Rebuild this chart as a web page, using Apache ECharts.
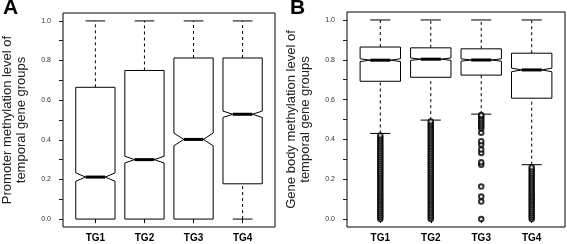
<!DOCTYPE html>
<html>
<head>
<meta charset="utf-8">
<script src="https://cdn.jsdelivr.net/npm/echarts@6/dist/echarts.min.js"></script>
<style>
html,body{margin:0;padding:0;background:#fff;}
#c{width:567px;height:244px;}
</style>
</head>
<body>
<div id="c"></div>
<script>
// ---- data ----
const categories = ['TG1', 'TG2', 'TG3', 'TG4'];
const yTickLabels = [0.0, 0.2, 0.4, 0.6, 0.8, 1.0];
const yMinorTicks = [0.0, 0.1, 0.2, 0.3, 0.4, 0.5, 0.6, 0.7, 0.8, 0.9, 1.0];

// Panel A: promoter methylation
const promoterLow    = [0.0, 0.0, 0.0, 0.0];
const promoterQ1     = [0.0, 0.0, 0.0, 0.178];
const promoterMedian = [0.212, 0.300, 0.402, 0.529];
const promoterNotch  = [0.021, 0.017, 0.032, 0.016];
const promoterQ3     = [0.665, 0.750, 0.813, 0.813];
const promoterHigh   = [1.0, 1.0, 1.0, 1.0];

// Panel B: gene body methylation
const bodyLow    = [0.430, 0.497, 0.527, 0.273];
const bodyQ1     = [0.692, 0.712, 0.723, 0.607];
const bodyMedian = [0.798, 0.803, 0.799, 0.749];
const bodyNotch  = [0.007, 0.006, 0.006, 0.009];
const bodyQ3     = [0.864, 0.860, 0.855, 0.833];
const bodyHigh   = [1.0, 1.0, 1.0, 1.0];

const bodyOutliersTG1 = [0.00,0.01,0.02,0.03,0.04,0.05,0.06,0.07,0.08,0.09,0.10,0.11,0.12,0.13,0.14,0.15,0.16,0.17,0.18,0.19,0.20,0.21,0.22,0.23,0.24,0.25,0.26,0.27,0.28,0.29,0.30,0.31,0.32,0.33,0.34,0.35,0.36,0.37,0.38,0.39,0.40,0.41,0.42];
const bodyOutliersTG2 = [0.00,0.01,0.02,0.03,0.04,0.05,0.06,0.07,0.08,0.09,0.10,0.11,0.12,0.13,0.14,0.15,0.16,0.17,0.18,0.19,0.20,0.21,0.22,0.23,0.24,0.25,0.26,0.27,0.28,0.29,0.30,0.31,0.32,0.33,0.34,0.35,0.36,0.37,0.38,0.39,0.40,0.41,0.42,0.43,0.44,0.45,0.46,0.47,0.48,0.49];
const bodyOutliersTG3 = [0.000,0.088,0.113,0.163,0.273,0.285,0.332,0.349,0.374,0.391,0.434,0.455,0.465,0.475,0.485,0.495,0.505,0.515,0.522];
const bodyOutliersTG4 = [0.00,0.01,0.02,0.03,0.04,0.05,0.06,0.07,0.08,0.09,0.10,0.11,0.12,0.13,0.14,0.15,0.16,0.17,0.18,0.19,0.20,0.21,0.22,0.23,0.24,0.25,0.26];

// ---- build ----
function boxData(low, q1, med, notch, q3, high) {
  return categories.map((c, i) => [i + 1, low[i], q1[i], med[i], notch[i], q3[i], high[i]]);
}
const HW = 0.4, NW = 0.2;
function renderBox(params, api) {
  const x = api.value(0), lo = api.value(1), q1 = api.value(2), med = api.value(3),
        nt = api.value(4), q3 = api.value(5), hi = api.value(6);
  const c = (a, b) => api.coord([a, b]);
  const pts = [
    c(x - HW, q1), c(x + HW, q1), c(x + HW, med - nt), c(x + NW, med), c(x + HW, med + nt),
    c(x + HW, q3), c(x - HW, q3), c(x - HW, med + nt), c(x - NW, med), c(x - HW, med - nt)
  ];
  const line = (p1, p2, extra) => ({
    type: 'line',
    shape: { x1: p1[0], y1: p1[1], x2: p2[0], y2: p2[1] },
    style: Object.assign({ stroke: '#000', lineWidth: 1 }, extra || {})
  });
  const children = [];
  children.push(line(c(x, q3), c(x, hi), { lineDash: [3, 3] }));
  children.push(line(c(x - NW, hi), c(x + NW, hi)));
  if (lo < q1) {
    children.push(line(c(x, lo), c(x, q1), { lineDash: [3, 3] }));
    children.push(line(c(x - NW, lo), c(x + NW, lo)));
  }
  children.push({ type: 'polygon', shape: { points: pts }, style: { fill: '#fff', stroke: '#000', lineWidth: 1 } });
  children.push(line(c(x - NW, med), c(x + NW, med), { lineWidth: 3 }));
  return { type: 'group', children };
}

function xAxisCfg(gi) {
  return {
    type: 'value', gridIndex: gi, min: 0.34, max: 4.66,
    axisLine: { show: false }, splitLine: { show: false },
    axisTick: { show: true, length: 4, customValues: [1, 2, 3, 4], lineStyle: { color: '#000' } },
    axisLabel: {
      customValues: [1, 2, 3, 4], margin: 6,
      formatter: v => categories[Math.round(v) - 1],
      fontFamily: 'Liberation Sans', fontWeight: 'bold', fontSize: 10, color: '#000'
    }
  };
}
function yAxisCfg(gi, name) {
  return {
    type: 'value', gridIndex: gi, min: -0.04, max: 1.04,
    axisLine: { show: false }, splitLine: { show: false },
    axisTick: { show: true, length: 4, customValues: yMinorTicks, lineStyle: { color: '#222' } },
    axisLabel: {
      customValues: yTickLabels, margin: 12,
      formatter: v => v.toFixed(1),
      fontFamily: 'Liberation Sans', fontSize: 7, color: '#333'
    },
    name: name, nameLocation: 'middle', nameRotate: 90, nameGap: 35,
    nameTextStyle: { fontFamily: 'Liberation Sans', fontSize: 13, color: '#222', lineHeight: 13.5 }
  };
}

const outlierData = [];
[bodyOutliersTG1, bodyOutliersTG2, bodyOutliersTG3, bodyOutliersTG4].forEach((arr, i) => {
  arr.forEach(v => outlierData.push([i + 1, v]));
});

const chart = echarts.init(document.getElementById('c'), null, { renderer: 'canvas' });
chart.setOption({
  animation: false,
  backgroundColor: '#fff',
  grid: [
    { left: 57, top: 13, width: 218, height: 214, show: true, borderColor: '#000', borderWidth: 1, backgroundColor: 'transparent' },
    { left: 347, top: 12, width: 218, height: 215, show: true, borderColor: '#000', borderWidth: 1, backgroundColor: 'transparent' }
  ],
  xAxis: [xAxisCfg(0), xAxisCfg(1)],
  yAxis: [
    yAxisCfg(0, 'Promoter methylation level of\ntemporal gene groups'),
    yAxisCfg(1, 'Gene body methylation level of\ntemporal gene groups')
  ],
  graphic: [
    { type: 'text', left: 3, top: -2, style: { text: 'A', font: 'bold 21px "Liberation Sans"', fill: '#000' } },
    { type: 'text', left: 290, top: -2, style: { text: 'B', font: 'bold 21px "Liberation Sans"', fill: '#000' } }
  ],
  series: [
    {
      type: 'custom', xAxisIndex: 0, yAxisIndex: 0, renderItem: renderBox,
      encode: { x: 0, y: [1, 2, 3, 4, 5, 6] },
      data: boxData(promoterLow, promoterQ1, promoterMedian, promoterNotch, promoterQ3, promoterHigh)
    },
    {
      type: 'custom', xAxisIndex: 1, yAxisIndex: 1, renderItem: renderBox,
      encode: { x: 0, y: [1, 2, 3, 4, 5, 6] },
      data: boxData(bodyLow, bodyQ1, bodyMedian, bodyNotch, bodyQ3, bodyHigh)
    },
    {
      type: 'scatter', xAxisIndex: 1, yAxisIndex: 1,
      symbol: 'emptyCircle', symbolSize: 4.5,
      itemStyle: { color: '#000', borderColor: '#000', borderWidth: 1 },
      data: outlierData
    }
  ]
});
</script>
</body>
</html>
